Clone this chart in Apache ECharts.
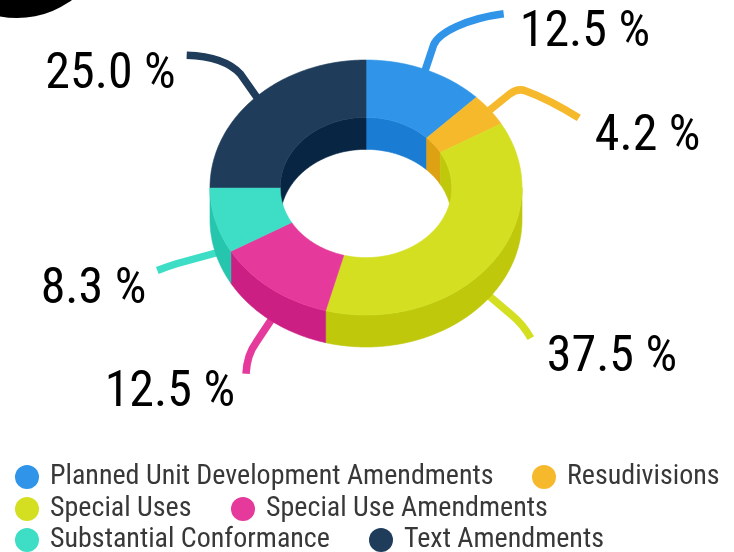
<!DOCTYPE html>
<html><head><meta charset="utf-8">
<script src="https://cdn.jsdelivr.net/npm/echarts@6/dist/echarts.min.js"></script>
<style>html,body{margin:0;padding:0;background:#fff}#c{width:734px;height:552px}</style>
</head><body><div id="c"></div>
<script>
// ---- data ----
const categories = ['Planned Unit Development Amendments','Resudivisions','Special Uses','Special Use Amendments','Substantial Conformance','Text Amendments'];
const counts = [3, 1, 9, 3, 2, 6];

// ---- styles ----
const topColors  = ['#3095e8','#f6b92b','#d5df21','#e53a9b','#3ddec5','#1f3d5b'];
const sideColors = ['#1a7cd3','#dea113','#bfc80b','#cc1f84','#26c5ae','#082644'];
const FONT = "'Roboto Condensed', 'Roboto', sans-serif";
const G = {cx: 366, cy: 187.5, rx: 156, ry: 127.5, inner: 0.55, depth: 32};
// leader line shapes, relative to the slice's anchor on the rim
const leaderShapes = [
  [['M',-3,8],['L',8,-25],['C',13,-37,40,-51,78,-56]],
  [['M',-6,5],['L',20,-16],['Q',28,-22,36,-19],['C',50,-14,70,-4,89,8]],
  [['M',-4,-4],['L',22,18],['Q',33,27,41,41]],
  [['M',3,-5],['L',-15,22],['Q',-24,34,-25,53]],
  [['M',6,-1],['L',-38,11],['Q',-48,14,-58,18]],
  [['M',4,4],['L',-15,-23],['C',-24,-33,-40,-41,-69,-42]]
];

const total = counts.reduce((a, b) => a + b, 0);
const starts = [];
counts.reduce((acc, v, i) => { starts[i] = acc; return acc + v; }, 0);

function P(t, f, dy) {
  return [G.cx + G.rx * f * Math.sin(t), G.cy - G.ry * f * Math.cos(t) + dy];
}
function arc(t0, t1, f, dy) {
  const n = Math.max(2, Math.ceil(Math.abs(t1 - t0) / (Math.PI / 180)));
  const pts = [];
  for (let k = 0; k <= n; k++) pts.push(P(t0 + (t1 - t0) * k / n, f, dy));
  return pts;
}
function ring(t0, t1) {
  return arc(t0, t1, 1, 0).concat(arc(t1, t0, G.inner, 0));
}
function wall(t0, t1, f) {
  return arc(t0, t1, f, 0).concat(arc(t1, t0, f, G.depth));
}

function renderItem(params, api) {
  const i = params.dataIndex;
  const v = api.value(0);
  const a0 = starts[i] / total * 2 * Math.PI;
  const a1 = a0 + v / total * 2 * Math.PI;
  const ch = [];
  const top = topColors[i], side = sideColors[i];
  // top face
  ch.push({type: 'polygon', z2: 30, shape: {points: ring(a0, a1)},
    style: {fill: top, stroke: top, lineWidth: 0.6}});
  // outer wall (front half)
  const o0 = Math.max(a0, Math.PI / 2), o1 = Math.min(a1, 1.5 * Math.PI);
  if (o1 > o0) ch.push({type: 'polygon', z2: 20, shape: {points: wall(o0, o1, 1)},
    style: {fill: side, stroke: side, lineWidth: 0.6}});
  // inner wall (back half)
  [[0, Math.PI / 2], [1.5 * Math.PI, 2 * Math.PI]].forEach(r => {
    const b0 = Math.max(a0, r[0]), b1 = Math.min(a1, r[1]);
    if (b1 > b0) ch.push({type: 'polygon', z2: 10, shape: {points: wall(b0, b1, G.inner)},
      style: {fill: side, stroke: side, lineWidth: 0.6}});
  });
  // leader line
  const mid = (a0 + a1) / 2;
  const front = Math.cos(mid) < 0;
  const anc = P(mid, 1, front ? G.depth : 0);
  let d = '', end = anc;
  leaderShapes[i].forEach(c => {
    const nums = c.slice(1);
    const abs = [];
    for (let k = 0; k < nums.length; k += 2) abs.push((anc[0] + nums[k]).toFixed(1) + ' ' + (anc[1] + nums[k + 1]).toFixed(1));
    d += c[0] + ' ' + abs.join(' ') + ' ';
    end = [anc[0] + nums[nums.length - 2], anc[1] + nums[nums.length - 1]];
  });
  ch.push({type: 'path', z2: 5, shape: {pathData: d},
    style: {fill: 'none', stroke: top, lineWidth: 7.5, lineCap: 'butt', lineJoin: 'round'}});
  // label
  const right = Math.sin(mid) > 0;
  ch.push({type: 'text', z2: 40, x: end[0] + (right ? 16 : -11), y: end[1] + 20,
    style: {text: (v / total * 100).toFixed(1) + ' %', fill: '#000', fontSize: 50, fontFamily: FONT,
      align: right ? 'left' : 'right', verticalAlign: 'middle'}});
  return {type: 'group', children: ch};
}

const legendPos = [[15, 463], [532, 463], [15, 495], [231, 495], [15, 526], [369, 526]];
const legends = categories.map((n, i) => ({
  data: [n], left: legendPos[i][0], top: legendPos[i][1], icon: 'circle', padding: 0,
  itemWidth: 24, itemHeight: 24, selectedMode: false,
  textStyle: {fontSize: 28, lineHeight: 24, color: '#383838', fontFamily: FONT, padding: [0, 0, 0, 6]}
}));

const chart = echarts.init(document.getElementById('c'), null, {renderer: 'canvas'});
chart.setOption({
  animation: false,
  backgroundColor: '#fff',
  graphic: [{type: 'circle', shape: {cx: 17, cy: -75, r: 93}, style: {fill: '#000'}}],
  legend: legends,
  series: [
    {type: 'custom', coordinateSystem: 'none', silent: true, renderItem: renderItem,
      data: counts.map((v, i) => ({name: categories[i], value: v}))},
    {type: 'pie', center: [-500, -500], radius: [0, 1], silent: true, label: {show: false},
      data: counts.map((v, i) => ({name: categories[i], value: v, itemStyle: {color: topColors[i]}}))}
  ]
});
</script></body></html>
